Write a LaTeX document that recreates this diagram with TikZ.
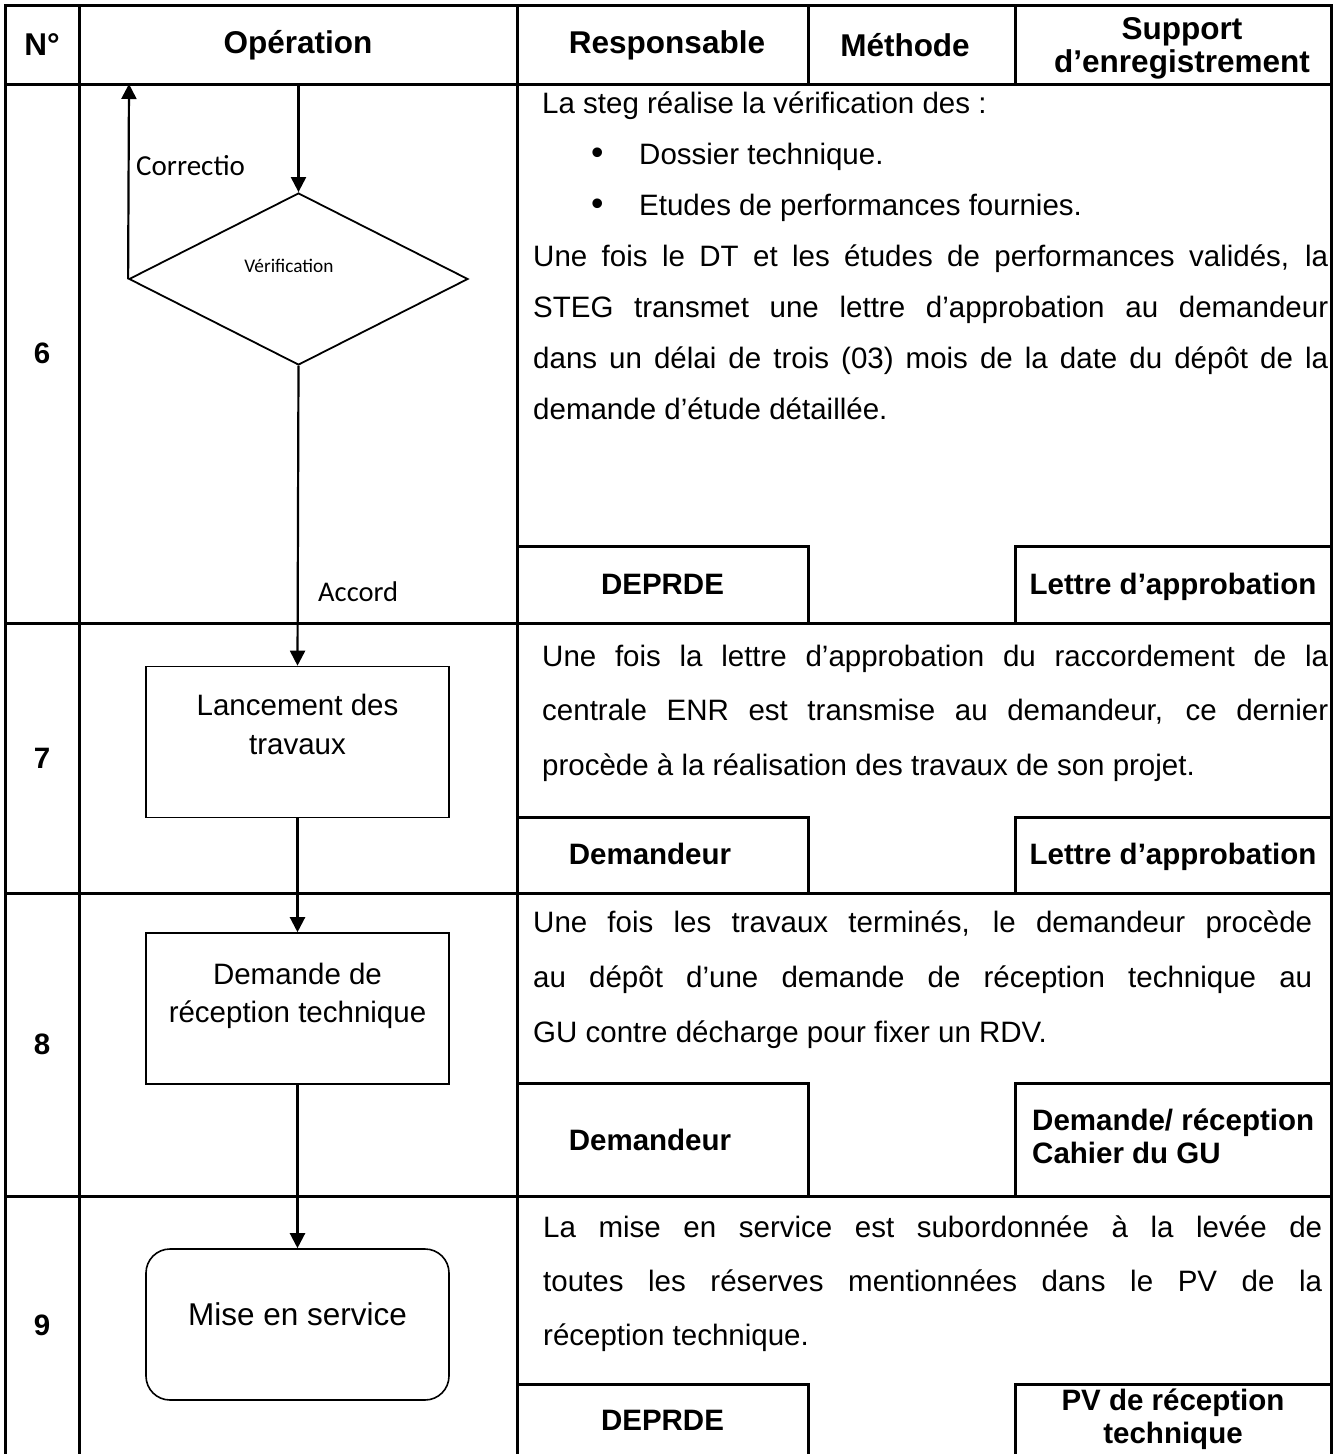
\documentclass[tikz,border=0pt]{standalone}
\usepackage{fontspec}
\setmainfont{Liberation Sans}
\newfontfamily\calib{Carlito}
\usepackage{tikz}
\usetikzlibrary{shapes.geometric}
\usetikzlibrary{arrows.meta}
\newcommand{\jline}[2]{\makebox[#1][s]{#2}}
\newcommand{\liftxt}[2]{\raisebox{#1}[\height][\depth]{\begin{tabular}{@{}c@{}}#2\end{tabular}}}

\begin{document}
\fontsize{29.5}{38.5}\selectfont
\begin{tikzpicture}[x=1pt,y=-1pt,
		grille/.style={line width=3pt},
		flow/.style={-{Triangle[length=15pt,width=15pt]}, line width=2.2pt},
		boite/.style={draw, line width=1.6pt, minimum width=303pt, minimum height=151pt, inner sep=0pt},
		txt/.style={anchor=base west, inner sep=0pt},
		tete/.style={font=\fontsize{31.5}{33}\selectfont\bfseries, align=center, inner sep=0pt},
		cell/.style={font=\fontsize{29.5}{33}\selectfont\bfseries, text height=21.1pt, text depth=0pt, inner sep=0pt},
		cellb/.style={font=\fontsize{29.5}{33}\selectfont\bfseries, align=center, inner sep=0pt},
		num/.style={font=\bfseries, inner sep=0pt}]
		\useasboundingbox (0,0) rectangle (1336,1454);

		% tableau
		\draw[grille] (5,1454) -- (5,5) -- (1331,5) -- (1331,1454);
		\draw[grille] (79,5) -- (79,1454);
		\draw[grille] (517,5) -- (517,1454);
		\draw[grille] (808,5) -- (808,84);
		\draw[grille] (1015,5) -- (1015,84);
		\foreach \y in {84,623,893,1196}
			\draw[grille] (5,\y) -- (1331,\y);
		\foreach \a/\b in {546/623,817/893,1083/1196,1384/1454} {
			\draw[grille] (517,\a) -- (808,\a) -- (808,\b);
			\draw[grille] (1331,\a) -- (1015,\a) -- (1015,\b);
		}

		% en-tete
		\node[tete] (hn) at (42,45) {N°};
		\node[tete] (hop) at (298,45) {Opération};
		\node[tete] (hresp) at (667,45) {Responsable};
		\node[tete] (hmeth) at (905,45) {Méthode};
		\node[tete] (hsup) at (1182,48) {Support\\d’enregistrement};

		\node[num] (n6) at (42,353.5) {6};
		\node[num] (n7) at (42,758) {7};
		\node[num] (n8) at (42,1044.5) {8};
		\node[num] (n9) at (42,1325) {9};

		% logigramme
		\coordinate (entree) at (298.5,84);
		\coordinate (retour) at (129,84);
		\node[draw, diamond, line width=1.8pt, minimum width=339pt, minimum height=172pt, inner sep=0pt] (verif) at (298.5,279) {};
		\node[font=\calib\fontsize{19.3}{22}\selectfont, inner sep=0pt] (veriftxt) at (289,266) {Vérification};
		\node[boite] (lance) at (297.5,742) {\liftxt{14.5pt}{Lancement des\\travaux}};
		\node[boite] (dem) at (297.5,1008.5) {\liftxt{12.5pt}{Demande de\\réception technique}};
		\node[boite, rounded corners=24pt, font=\fontsize{31.5}{36}\selectfont] (mise) at (297.5,1324.5) {\liftxt{6.5pt}{Mise en service}};

		\draw[flow] (entree) -- (verif.north);
		\draw[flow] (verif.west) -- (retour);
		\draw[flow] (verif.south) -- (lance.north);
		\draw[flow] (lance.south) -- (dem.north);
		\draw[flow] (dem.south) -- (mise.north);

		\node[font=\calib\fontsize{29}{33}\selectfont, anchor=west, inner sep=0pt] (corr) at (136,166) {Correctio};
		\node[font=\calib\fontsize{28.5}{33}\selectfont, anchor=west, inner sep=0pt] (accord) at (318,592) {Accord};

		% description
		\node[txt] (d6a) at (542,113) {La steg réalise la vérification des :};
		\node[txt] (b6b) at (591,164) {\scalebox{1.2}{•}};
		\node[txt] (d6b) at (639,164) {Dossier technique.};
		\node[txt] (b6c) at (591,215) {\scalebox{1.2}{•}};
		\node[txt] (d6c) at (639,215) {Etudes de performances fournies.};
		\node[txt] (d6d) at (533,266) {\jline{795pt}{Une fois le DT et les études de performances validés, la}};
		\node[txt] (d6e) at (533,317) {\jline{795pt}{STEG transmet une lettre d’approbation au demandeur}};
		\node[txt] (d6f) at (533,368) {\jline{795pt}{dans un délai de trois (03) mois de la date du dépôt de la}};
		\node[txt] (d6g) at (533,419) {demande d’étude détaillée.};

		\node[txt] (d7a) at (542,666) {\jline{786pt}{Une fois la lettre d’approbation du raccordement de la}};
		\node[txt] (d7b) at (542,720) {\jline{786pt}{centrale ENR est transmise au demandeur, ce dernier}};
		\node[txt] (d7c) at (542,775) {procède à la réalisation des travaux de son projet.};

		\node[txt] (d8a) at (533,932) {\jline{779pt}{Une fois les travaux terminés, le demandeur procède}};
		\node[txt] (d8b) at (533,987) {\jline{779pt}{au dépôt d’une demande de réception technique au}};
		\node[txt] (d8c) at (533,1042) {GU contre décharge pour fixer un RDV.};

		\node[txt] (d9a) at (543,1237) {\jline{779pt}{La mise en service est subordonnée à la levée de}};
		\node[txt] (d9b) at (543,1291) {\jline{779pt}{toutes les réserves mentionnées dans le PV de la}};
		\node[txt] (d9c) at (543,1345) {réception technique.};

		% responsable / support
		\node[cell] (r6) at (662.5,584) {DEPRDE};
		\node[cell] (s6) at (1173,584) {Lettre d’approbation};
		\node[cell] (r7) at (650,854) {Demandeur};
		\node[cell] (s7) at (1173,854) {Lettre d’approbation};
		\node[cell] (r8) at (650,1140) {Demandeur};
		\node[cellb, align=left, anchor=west] (s8) at (1032,1136) {Demande/ réception\\Cahier du GU};
		\node[cell] (r9) at (662.5,1420) {DEPRDE};
		\node[cellb] (s9) at (1173,1419) {PV de réception\\technique};

	\end{tikzpicture}
\end{document}
